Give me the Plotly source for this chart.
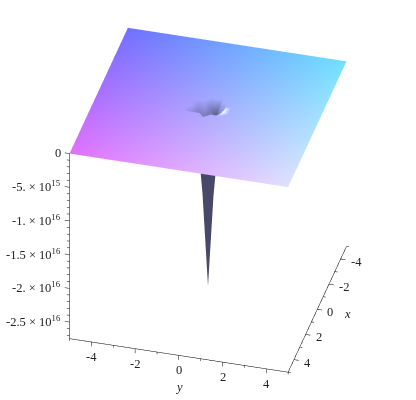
import plotly.graph_objects as go

# surface grid, refined round the pole at the origin
x_grid = [-5, -0.75, -0.5, -0.25, 0, 0.25, 0.5, 0.75, 5]
y_grid = [-5, -1, -0.75, -0.5, -0.25, 0, 0.25, 0.5, 0.75, 1, 5]

# height, rows follow x_grid, columns follow y_grid
z_rows = [
    [0, 0, 0, 0, 0, 0, 0, 0, 0, 0, 0],
    [0, 0, 0, 0, 0, 0, 0, 0, 0, 0, 0],
    [0, 0, 0, 0, 0, -0.1e16, -0.2e16, 0, 0, 0, 0],
    [0, 0, 0, -0.05e16, -0.5e16, -1.0e16, -0.5e16, -0.08e16, 0, 0, 0],
    [0, 0, 0, -0.4e16, -1.3e16, -2.65e16, -1.3e16, -0.4e16, 0, 0, 0],
    [0, 0, -0.05e16, -0.1e16, -0.5e16, -1.0e16, -0.5e16, -0.05e16, 0, 0, 0],
    [0, 0, 0, 0, 0, -0.08e16, 0, 0, 0, 0, 0],
    [0, 0, 0, 0, 0, 0, 0, 0, 0, 0, 0],
    [0, 0, 0, 0, 0, 0, 0, 0, 0, 0, 0],
]

# corner colours of the plate
red_low_x, red_high_x = 112, 225
green_low_y, green_high_y = 112, 225
plate_blue = 255
spike_rgb = (72, 72, 104)
full_dark_depth = 0.25e16
glint_color = "rgb(245,245,255)"
glint_at = [(0, 0.75), (0.25, 0.75)]

z_bottom = -2.745e16
x_major = [-4, -2, 0, 2, 4]
x_minor = [-5, -3, -1, 1, 3, 5]
y_major = [-4, -2, 0, 2, 4]
y_minor = [-5, -3, -1, 1, 3, 5]
z_major = [0, -0.5e16, -1e16, -1.5e16, -2e16, -2.5e16]
z_minor = [-0.1e16, -0.2e16, -0.3e16, -0.4e16, -0.6e16, -0.7e16, -0.8e16, -0.9e16,
           -1.1e16, -1.2e16, -1.3e16, -1.4e16, -1.6e16, -1.7e16, -1.8e16, -1.9e16,
           -2.1e16, -2.2e16, -2.3e16, -2.4e16, -2.6e16, -2.7e16]
z_labels = ["0", "-5. × 10<sup>15</sup>", "-1. × 10<sup>16</sup>", "-1.5 × 10<sup>16</sup>",
            "-2. × 10<sup>16</sup>", "-2.5 × 10<sup>16</sup>"]

span = 5.6
z_pad = (z_bottom * -1) * 0.06
font = dict(family="Liberation Serif", size=12.5, color="#222222")


def lerp(a, b, t):
    return a + (b - a) * t


px, py, pz, colors = [], [], [], []
for i, x in enumerate(x_grid):
    for j, y in enumerate(y_grid):
        z = z_rows[i][j]
        px.append(x)
        py.append(y)
        pz.append(z)
        if (x, y) in glint_at:
            colors.append(glint_color)
            continue
        # plate colour, sinking to the dark wall colour with depth
        r = lerp(red_low_x, red_high_x, (x + 5) / 10)
        g = lerp(green_low_y, green_high_y, (y + 5) / 10)
        t = min(1, -z / full_dark_depth)
        colors.append(f"rgb({lerp(r, spike_rgb[0], t):.0f},{lerp(g, spike_rgb[1], t):.0f},"
                      f"{lerp(plate_blue, spike_rgb[2], t):.0f})")

n = len(y_grid)
ti, tj, tk = [], [], []
for i in range(len(x_grid) - 1):
    for j in range(n - 1):
        a, b, c, d = i * n + j, i * n + j + 1, (i + 1) * n + j, (i + 1) * n + j + 1
        ti += [a, b]
        tj += [b, d]
        tk += [c, c]

fig = go.Figure()
fig.add_trace(go.Mesh3d(
    x=px, y=py, z=pz, i=ti, j=tj, k=tk,
    vertexcolor=colors,
    flatshading=False,
    lighting=dict(ambient=1, diffuse=0, specular=0, roughness=1, fresnel=0),
    hoverinfo="skip",
))

# axis lines and ticks
lx, ly, lz = [], [], []


def seg(x0, y0, z0, x1, y1, z1):
    lx.extend([x0, x1, None])
    ly.extend([y0, y1, None])
    lz.extend([z0, z1, None])


seg(5, -5, 0, 5, -5, z_bottom)
seg(5, -5, z_bottom, 5, 5, z_bottom)
seg(5, 5, z_bottom, -5, 5, z_bottom)
for v in z_major:
    seg(5, -5, v, 5, -5.22, v)
for v in z_minor:
    seg(5, -5, v, 5, -5.12, v)
for v in y_major:
    seg(5, v, z_bottom, 5, v, z_bottom - z_pad * 0.4)
for v in y_minor:
    seg(5, v, z_bottom, 5, v, z_bottom - z_pad * 0.2)
for v in x_major:
    seg(v, 5, z_bottom, v, 5.22, z_bottom)
for v in x_minor:
    seg(v, 5, z_bottom, v, 5.12, z_bottom)
fig.add_trace(go.Scatter3d(x=lx, y=ly, z=lz, mode="lines",
                           line=dict(color="black", width=1), hoverinfo="skip"))

notes = []
for v, t in zip(z_major, z_labels):
    notes.append(dict(x=5, y=-5, z=v, text=t, showarrow=False, xanchor="right",
                      xshift=-7, yshift=1, font=font))
for v in y_major:
    notes.append(dict(x=5, y=v, z=z_bottom, text=str(v), showarrow=False, yshift=-15, font=font))
for v in x_major:
    notes.append(dict(x=v, y=5, z=z_bottom, text=str(v), showarrow=False, xanchor="left",
                      xshift=8, yshift=-3, font=font))
notes.append(dict(x=5, y=0, z=z_bottom, text="<i>y</i>", showarrow=False, yshift=-32, font=font))
notes.append(dict(x=0, y=5, z=z_bottom, text="<i>x</i>", showarrow=False, xanchor="left",
                  xshift=25, yshift=-5, font=font))

hidden = dict(visible=False)
fig.update_layout(
    width=416,
    height=400,
    margin=dict(l=0, r=0, t=0, b=0),
    paper_bgcolor="white",
    showlegend=False,
    scene=dict(
        domain=dict(x=[0, 1], y=[0, 1]),
        xaxis=dict(range=[-span, span], **hidden),
        yaxis=dict(range=[-span, span], **hidden),
        zaxis=dict(range=[z_bottom - z_pad, z_pad], **hidden),
        aspectmode="manual",
        aspectratio=dict(x=1.267, y=1.267, z=1.267),
        camera=dict(
            projection=dict(type="orthographic"),
            eye=dict(x=1.058, y=0.2825, z=0.770),
            center=dict(x=0, y=0, z=0),
            up=dict(x=0, y=0, z=1),
        ),
        annotations=notes,
    ),
)

fig.write_html("out.html", config=dict(displayModeBar=False),
               post_script="document.body.style.margin='0';")
